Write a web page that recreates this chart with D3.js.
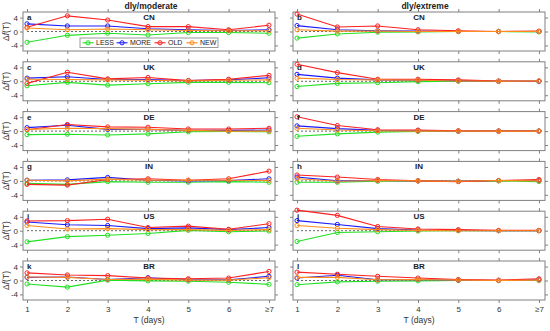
<!DOCTYPE html>
<html><head><meta charset="utf-8">
<script src="https://cdn.jsdelivr.net/npm/d3@7"></script>
<style>body{margin:0;background:#fff}svg{display:block;font-family:"Liberation Sans",Arial,sans-serif}</style>
</head><body><svg id="c" width="550" height="331"></svg>
<script>
const xTicks = [1,2,3,4,5,6,7];
const xTickLabels = ["1","2","3","4","5","6","≥7"];
const yTicks = [-4,0,4];
const seriesNames = ["LESS","MORE","OLD","NEW"];
const seriesColors = ["#22e022","#1a1aff","#ff2020","#ff8c1a"];
const countries = ["CN","UK","DE","IN","US","BR"];
const columns = ["dly/moderate","dly/extreme"];
const panelLetters = [["a","b"],["c","d"],["e","f"],["g","h"],["i","j"],["k","l"]];

// moderate column: [LESS, MORE, OLD, NEW]
const CN_mod = [[-3.1,-1.1,-0.5,-1.0,-0.3,-0.3,-0.5],[2.2,1.6,1.6,0.8,0.5,0.3,0.5],[1.2,4.5,3.3,1.4,1.4,0.5,1.8],[1.0,0.5,0.7,0.5,0.3,0.2,0.2]];
const UK_mod = [[-1.3,-0.3,-1.1,-0.7,-0.3,-0.3,-0.4],[0.9,1.3,0.5,0.5,0.2,0.4,1.0],[-0.6,2.6,0.7,1.1,0.2,0.6,1.7],[0.6,0.5,0.4,0.3,0.1,0.3,0.4]];
const DE_mod = [[-1.0,-0.9,-1.1,-0.8,-0.2,-0.1,-0.2],[1.0,1.7,0.5,0.5,0.2,0.2,0.3],[0.4,1.9,1.2,1.1,0.6,0.6,0.8],[0.5,0.8,0.7,0.5,0.2,0.0,0.0]];
const IN_mod = [[-0.7,-1.0,-0.2,-0.4,-0.4,-0.2,-0.4],[0.2,0.3,1.0,0.2,0.0,0.1,0.6],[-1.0,-1.2,0.4,0.6,0.2,0.6,2.8],[0.2,0.0,0.5,0.2,0.2,0.2,0.1]];
const US_mod = [[-3.2,-1.7,-1.3,-0.8,0.1,-0.3,-0.1],[2.5,1.7,1.5,0.6,0.8,0.3,0.9],[2.8,2.9,3.3,0.9,1.3,0.4,2.0],[1.5,0.5,0.6,0.3,0.3,0.1,0.3]];
const BR_mod = [[-1.0,-1.9,0.1,-0.1,-0.2,-0.5,-1.1],[0.9,1.0,0.3,0.8,0.2,0.2,1.2],[2.2,1.6,1.4,0.7,0.5,0.7,2.6],[1.0,0.9,0.3,0.4,0.1,0.1,0.8]];
// extreme column
const CN_ext = [[-1.9,-0.7,-0.2,-0.1,0.0,0.0,-0.1],[1.7,0.5,0.2,0.1,0.0,0.0,0.0],[5.0,1.3,1.6,0.5,0.2,0.0,0.1],[0.5,0.1,0.1,0.0,0.0,0.0,0.0]];
const UK_ext = [[-1.5,-0.6,-0.4,-0.1,0.0,0.0,0.0],[2.0,0.9,0.4,0.3,0.2,0.0,0.0],[4.9,2.5,0.6,0.6,0.4,0.1,0.1],[0.9,0.5,0.4,0.3,0.1,0.0,0.1]];
const DE_ext = [[-1.5,-0.8,-0.3,-0.1,-0.1,0.0,0.0],[1.5,0.7,0.2,0.1,0.0,0.0,0.0],[4.1,1.6,0.4,0.3,0.1,0.0,0.0],[0.8,0.3,0.1,0.0,0.0,0.0,0.0]];
const IN_ext = [[-0.4,-0.4,-0.1,0.0,-0.1,0.0,-0.2],[1.1,0.0,0.1,0.0,-0.1,0.1,0.1],[1.7,1.1,0.4,0.0,-0.2,0.1,0.4],[0.6,-0.1,0.1,0.0,-0.1,0.1,0.0]];
const US_ext = [[-3.1,-0.5,-0.3,-0.1,0.0,0.0,0.0],[2.9,1.8,0.6,0.2,0.1,0.0,0.0],[5.9,4.4,1.2,0.5,0.3,0.1,0.1],[1.5,0.7,0.3,0.1,0.0,0.0,0.0]];
const BR_ext = [[-1.2,-0.4,-0.2,-0.1,0.0,0.0,0.0],[0.7,1.5,0.2,0.3,0.1,0.0,0.2],[2.4,1.8,1.2,0.7,0.3,0.1,0.5],[0.9,0.9,0.2,0.3,0.1,0.0,0.1]];

const panelData = [[CN_mod,CN_ext],[UK_mod,UK_ext],[DE_mod,DE_ext],[IN_mod,IN_ext],[US_mod,US_ext],[BR_mod,BR_ext]];

const svg = d3.select("#c");
const colX = [[23,275],[293,545]];
const top0 = 12, step = 49.8, ph = 39;
const frameColor = "#808080";

const line = (xs, ys) => d3.line().x((d,i)=>xs(xTicks[i])).y(d=>ys(d));

panelData.forEach((row, r) => {
  row.forEach((series, c) => {
    const [x0, x1] = colX[c];
    const y0 = top0 + r*step;
    const xs = d3.scaleLinear().domain([0.9,7.15]).range([x0,x1]);
    const ys = d3.scaleLinear().domain([-5.6,5.6]).range([y0+ph,y0]);
    const g = svg.append("g");
    g.append("rect").attr("x",x0).attr("y",y0).attr("width",x1-x0).attr("height",ph)
      .attr("fill","#fff").attr("stroke",frameColor).attr("stroke-width",1);
    const isBottom = r === panelData.length-1;
    const axB = g.append("g").attr("transform",`translate(0,${y0+ph})`)
      .call(d3.axisBottom(xs).tickValues(xTicks).tickSize(3).tickPadding(3)
        .tickFormat((d,i)=> isBottom ? xTickLabels[i] : ""));
    const axT = g.append("g").attr("transform",`translate(0,${y0})`)
      .call(d3.axisTop(xs).tickValues(xTicks).tickSize(3).tickFormat(""));
    const axL = g.append("g").attr("transform",`translate(${x0},0)`)
      .call(d3.axisLeft(ys).tickValues(yTicks).tickSize(3).tickPadding(2)
        .tickFormat(d => c===0 ? String(d) : ""));
    const axR = g.append("g").attr("transform",`translate(${x1},0)`)
      .call(d3.axisRight(ys).tickValues(yTicks).tickSize(3).tickFormat(""));
    [axB,axT,axL,axR].forEach(a=>{
      a.select(".domain").remove();
      a.selectAll(".tick line").attr("stroke",frameColor);
      a.selectAll("text").attr("fill","#333").style("font-size","8px")
        .style("font-family","'Liberation Sans',Arial,sans-serif");
    });
    g.append("line").attr("x1",xs(1)).attr("x2",xs(7)).attr("y1",ys(0)).attr("y2",ys(0))
      .attr("stroke","#555").attr("stroke-width",0.9).attr("stroke-dasharray","2,2");
    series.forEach((vals, s) => {
      g.append("path").datum(vals).attr("d", line(xs,ys)(vals))
        .attr("fill","none").attr("stroke",seriesColors[s]).attr("stroke-width",1.1);
      g.selectAll(null).data(vals).enter().append("circle")
        .attr("cx",(d,i)=>xs(xTicks[i])).attr("cy",d=>ys(d)).attr("r",2.1)
        .attr("fill","none").attr("stroke",seriesColors[s]).attr("stroke-width",1);
    });
    g.append("text").attr("x",x0+4).attr("y",y0+8).text(panelLetters[r][c])
      .style("font-size","8px").style("font-weight","bold").attr("fill","#222");
    g.append("text").attr("x",(x0+x1)/2).attr("y",y0+8).attr("text-anchor","middle")
      .text(countries[r]).style("font-size","8px").style("font-weight","bold").attr("fill","#222");
    if (c===0) {
      const t = g.append("text").attr("transform",`translate(9,${y0+ph/2}) rotate(-90)`)
        .attr("text-anchor","middle").style("font-size","8.5px").attr("fill","#333");
      t.append("tspan").text("Δ");
      t.append("tspan").text("f").style("font-style","italic");
      t.append("tspan").text("(T)");
    }
    if (isBottom) {
      g.append("text").attr("x",(x0+x1)/2).attr("y",323).attr("text-anchor","middle")
        .text("T (days)").style("font-size","8.5px").attr("fill","#333");
    }
    if (r===0) {
      svg.append("text").attr("x",(x0+x1)/2+(c===0?2:6)).attr("y",9).attr("text-anchor","middle")
        .text(columns[c]).style("font-size","8.5px").style("font-weight","bold").attr("fill","#222");
    }
    if (r===0 && c===0) {
      const lg = svg.append("g");
      lg.append("rect").attr("x",80).attr("y",38).attr("width",138).attr("height",9.5)
        .attr("fill","#fff").attr("stroke",frameColor).attr("stroke-width",0.8);
      const itemX = [88,122,160,192];
      seriesNames.forEach((nm,s)=>{
        const cx = itemX[s], ly = 42.8;
        lg.append("line").attr("x1",cx-5.5).attr("x2",cx+5.5).attr("y1",ly).attr("y2",ly)
          .attr("stroke",seriesColors[s]).attr("stroke-width",1.1);
        lg.append("circle").attr("cx",cx).attr("cy",ly).attr("r",2.1)
          .attr("fill","none").attr("stroke",seriesColors[s]);
        lg.append("text").attr("x",cx+8).attr("y",ly+2.6).text(nm)
          .style("font-size","7px").attr("fill","#222");
      });
    }
  });
});
</script></body></html>
